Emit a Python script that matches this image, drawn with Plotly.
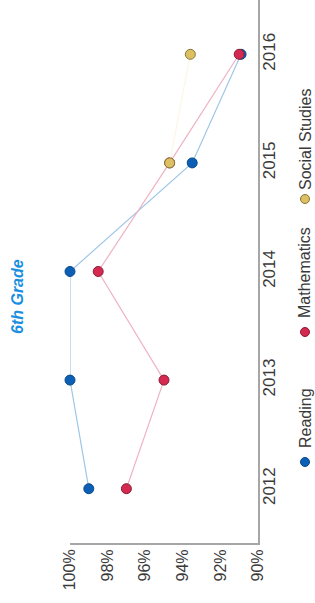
import plotly.graph_objects as go

years = ["2012", "2013", "2014", "2015", "2016"]
reading = [99.0, 100.0, 100.0, 93.5, 90.9]
mathematics = [97.0, 95.0, 98.5, 94.7, 91.0]
social_years = ["2015", "2016"]
social_studies = [94.7, 93.6]
pct_ticks = [100, 98, 96, 94, 92, 90]

series = [
    ("Reading", years, reading, "#0b5fb5", "#9fc6e6", "#0a4a8a"),
    ("Mathematics", years, mathematics, "#d42a50", "#efb3c2", "#8a1c36"),
    ("Social Studies", social_years, social_studies, "#dcc062", "#fbf6e4", "#8a7434"),
]

fig = go.Figure()
for name, xs, vals, mcol, lcol, ocol in series:
    fig.add_trace(go.Scatter(
        x=vals, y=xs, name=name, mode="lines+markers",
        line=dict(color=lcol, width=1.2),
        marker=dict(size=10, color=mcol, line=dict(color=ocol, width=1)),
        cliponaxis=False, showlegend=False,
    ))

L, R, T, B = 70, 57, 0, 60
W, H = 315, 603
pw, ph = W - L - R, H - T - B

def px(x):
    return (x - L) / pw

def py(y):
    return (H - B - y) / ph

annotations = [
    dict(text="<b><i>6th Grade</i></b>", x=px(17), y=py(297), xref="paper", yref="paper",
         showarrow=False, textangle=-90, xanchor="center", yanchor="middle",
         font=dict(size=16, color="#1a8fe0", family="Liberation Sans, Arial, sans-serif")),
]
shapes = []
legend_text_centers = [418, 273, 140]
legend_marker_centers = [462, 332, 199]
for (name, xs, vals, mcol, lcol, ocol), yt, ym in zip(series, legend_text_centers, legend_marker_centers):
    annotations.append(dict(
        text=name, x=px(305), y=py(yt), xref="paper", yref="paper", showarrow=False,
        textangle=-90, xanchor="center", yanchor="middle",
        font=dict(size=16, color="#3a3a3a", family="Liberation Sans, Arial, sans-serif"),
    ))
    shapes.append(dict(
        type="circle", xref="paper", yref="paper", xsizemode="pixel", ysizemode="pixel",
        xanchor=px(305), yanchor=py(ym), x0=-4.5, x1=4.5, y0=-4.5, y1=4.5,
        fillcolor=mcol, line=dict(color=ocol, width=1),
    ))

fig.update_layout(
    width=W, height=H,
    margin=dict(l=L, r=R, t=T, b=B, pad=0),
    paper_bgcolor="white", plot_bgcolor="white",
    font=dict(family="Liberation Sans, Arial, sans-serif", color="#3a3a3a"),
    annotations=annotations,
    shapes=shapes,
    xaxis=dict(
        range=[100, 90], tickvals=pct_ticks, ticktext=[f"{v}%" for v in pct_ticks],
        tickangle=-90, showgrid=False, zeroline=False, showline=True,
        linecolor="#a6a6a6", linewidth=2, ticks="", tickfont=dict(size=16, color="#3a3a3a"),
        ticklabelstandoff=-2,
    ),
    yaxis=dict(
        type="category", categoryorder="array", categoryarray=years,
        range=[-0.5, 4.5], side="right", tickangle=-90, showgrid=False, zeroline=False,
        showline=True, linecolor="#a6a6a6", linewidth=2, ticks="",
        tickfont=dict(size=17, color="#3a3a3a"), ticklabelstandoff=-5,
    ),
)

fig.write_html(
    "out.html",
    config={"displayModeBar": False},
    post_script="document.body.style.margin='0';document.body.style.overflow='hidden';",
)
